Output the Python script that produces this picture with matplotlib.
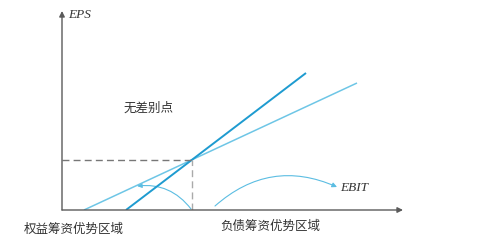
import numpy as np
import matplotlib
matplotlib.use("Agg")
import matplotlib.pyplot as plt
from matplotlib.patches import FancyArrowPatch

plt.rcParams['font.family'] = ['Noto Sans CJK SC', 'DejaVu Sans']

# 两种筹资方式的 EBIT-EPS 直线（示意单位）
ebit_equity = [22, 295]
eps_equity = [0, 127]
ebit_debt = [64, 244]
eps_debt = [0, 137]

x_max, y_max = 341, 199

# 无差别点：两直线交点
k1 = (eps_equity[1] - eps_equity[0]) / (ebit_equity[1] - ebit_equity[0])
k2 = (eps_debt[1] - eps_debt[0]) / (ebit_debt[1] - ebit_debt[0])
x0 = (k1 * ebit_equity[0] - k2 * ebit_debt[0]) / (k1 - k2)
y0 = k1 * (x0 - ebit_equity[0])

fig = plt.figure(figsize=(5.03, 2.41), dpi=100)
ax = fig.add_axes([62 / 503, 31 / 241, 341 / 503, 199 / 241])
ax.set_xlim(0, x_max)
ax.set_ylim(0, y_max)
ax.axis('off')

# 坐标轴
axis_col = '#5a5a5a'
ax.annotate('', xy=(x_max, 0), xytext=(0, 0),
            arrowprops=dict(arrowstyle='-|>', color=axis_col, lw=1.0,
                            mutation_scale=8, shrinkA=0, shrinkB=0))
ax.annotate('', xy=(0, y_max), xytext=(0, 0),
            arrowprops=dict(arrowstyle='-|>', color=axis_col, lw=1.0,
                            mutation_scale=8, shrinkA=0, shrinkB=0))

# 两条直线
ax.plot(ebit_equity, eps_equity, color='#6ec6e6', lw=1.1, solid_capstyle='butt')
ax.plot(ebit_debt, eps_debt, color='#1e9bd0', lw=1.4, solid_capstyle='butt')

# 虚线
ax.plot([0, x0], [y0, y0], color='#777777', lw=1.0, ls=(0, (5, 3)))
ax.plot([x0, x0], [0, y0], color='#aaaaaa', lw=1.0, ls=(0, (5, 3)))

# 弧形箭头
arc_col = '#5bbde2'
ax.add_patch(FancyArrowPatch((x0 - 1, 1), (75, 24),
                             connectionstyle='arc3,rad=0.28',
                             arrowstyle='-|>', mutation_scale=7,
                             color=arc_col, lw=0.8, shrinkA=0, shrinkB=0))
ax.add_patch(FancyArrowPatch((153, 4), (275, 23),
                             connectionstyle='arc3,rad=-0.32',
                             arrowstyle='-|>', mutation_scale=7,
                             color=arc_col, lw=0.8, shrinkA=0, shrinkB=0))

# 文字
serif_it = dict(family='Liberation Serif', style='italic', color='#333333')
ax.text(6, 195, 'EPS', fontsize=9.5, ha='left', va='center', **serif_it)
ax.text(278, 22, 'EBIT', fontsize=9.5, ha='left', va='center', **serif_it)
ax.text(87, 102, '无差别点', fontsize=9, ha='center', va='center', color='#333333')
ax.text(11.5, -19, '权益筹资优势区域', fontsize=9, ha='center', va='center',
        color='#333333', clip_on=False)
ax.text(208, -16, '负债筹资优势区域', fontsize=9, ha='center', va='center',
        color='#333333', clip_on=False)

fig.savefig('out.png', dpi=100)
